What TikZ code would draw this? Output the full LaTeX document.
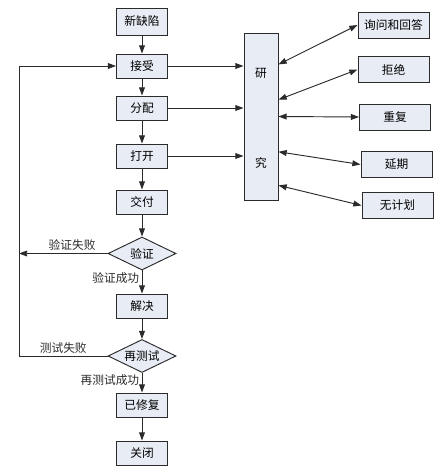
\documentclass[tikz,border=0pt]{standalone}
\usepackage{fontspec}
\newfontfamily\cjk{Noto Sans CJK SC}
\usetikzlibrary{arrows.meta, positioning, shapes.geometric, calc}
\definecolor{boxFill}{HTML}{E8ECF5}
\definecolor{lineDark}{HTML}{2B2B2B}

\begin{document}
\begin{tikzpicture}[x=0.03cm, y=-0.03cm,
    box/.style={rectangle, draw=lineDark, fill=boxFill, line width=0.8pt,
                minimum width=1.53cm, minimum height=0.72cm, inner sep=1pt,
                font=\cjk\fontsize{10}{12}\selectfont, align=center},
    choice/.style={diamond, draw=lineDark, fill=boxFill, line width=0.8pt,
                   minimum width=2.04cm, minimum height=0.99cm, inner sep=0pt,
                   aspect=2, font=\cjk\fontsize{10}{12}\selectfont},
    sidebox/.style={box, minimum width=2.13cm, minimum height=0.78cm},
    lbl/.style={font=\cjk\fontsize{10}{12}\selectfont, inner sep=2pt},
    arr/.style={-{Triangle[length=7pt, width=5pt]}, line width=0.8pt, lineDark},
    darr/.style={{Triangle[length=7pt, width=5pt]}-{Triangle[length=7pt, width=5pt]},
                 line width=0.8pt, lineDark}
  ]
    \useasboundingbox (0,0) rectangle (446,474);

    % main flow
    \node[box, minimum height=0.81cm] (new) at (142,21.5) {新缺陷};
    \node[box] (accept) at (142,66) {接受};
    \node[box] (assign) at (142,108) {分配};
    \node[box] (open) at (142,156) {打开};
    \node[box] (deliver) at (142,202) {交付};
    \node[choice] (verify) at (142,253.5) {验证};
    \node[box] (resolve) at (142,306) {解决};
    \node[choice] (retest) at (142,356) {再测试};
    \node[box] (fixed) at (142,405) {已修复};
    \node[box] (closed) at (142,453) {关闭};

    % research and outcomes
    \node[box, minimum width=1.02cm, minimum height=5.01cm] (research) at (261,116.5) {};
    \node[lbl] (resA) at (261,73) {研};
    \node[lbl] (resB) at (261,163) {究};
    \node[sidebox] (ask) at (393.5,25) {询问和回答};
    \node[sidebox] (reject) at (393.5,69.5) {拒绝};
    \node[sidebox] (dup) at (395,117) {重复};
    \node[sidebox] (defer) at (396.5,164.5) {延期};
    \node[sidebox] (noplan) at (397.5,205.5) {无计划};

    \coordinate (loop) at (19,0);

    \draw[arr] (new) -- (accept);
    \draw[arr] (accept) -- (assign);
    \draw[arr] (assign) -- (open);
    \draw[arr] (open) -- (deliver);
    \draw[arr] (deliver) -- (verify);
    \draw[arr] (verify) -- node[lbl, left, pos=0.35] {验证成功} (resolve);
    \draw[arr] (resolve) -- (retest);
    \draw[arr] (retest) -- node[lbl, left, pos=0.35] {再测试成功} (fixed);
    \draw[arr] (fixed) -- (closed);

    \draw[arr] (verify.west) -- node[lbl, above, pos=0.4] {验证失败} (verify.west -| loop);
    \draw[arr] (retest.west) -- node[lbl, above] {测试失败} (retest.west -| loop)
      |- (accept.west);

    \draw[arr] (accept.east) -- (accept.east -| research.west);
    \draw[arr] (assign.east) -- (assign.east -| research.west);
    \draw[arr] (open.east) -- (open.east -| research.west);

    \draw[darr] ($(research.north east)!0.19!(research.south east)$) -- (ask.west);
    \draw[darr] ($(research.north east)!0.40!(research.south east)$) -- (reject.west);
    \draw[darr] ($(research.north east)!0.50!(research.south east)$) -- (dup.west);
    \draw[darr] ($(research.north east)!0.71!(research.south east)$) -- (defer.west);
    \draw[darr] ($(research.north east)!0.91!(research.south east)$) -- (noplan.west);
  \end{tikzpicture}
\end{document}
